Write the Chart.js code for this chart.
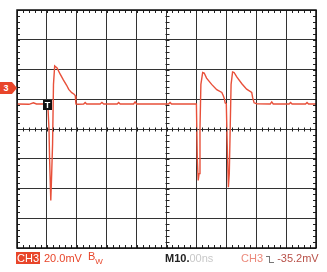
<!DOCTYPE html>
<html>
<head>
<meta charset="utf-8">
<script src="https://cdn.jsdelivr.net/npm/chart.js@4.4.1/dist/chart.umd.min.js"></script>
<style>
  html, body { margin: 0; padding: 0; background: #ffffff; }
  #wrap { position: relative; width: 327px; height: 272px; overflow: hidden; font-family: "Liberation Sans", Arial, sans-serif; }
  canvas { position: absolute; left: 0; top: 0; }
  .lbl { position: absolute; font-size: 11px; line-height: 12px; white-space: nowrap; }
  .edge { display: inline-block; vertical-align: -1px; height: 7px; box-sizing: border-box; }
</style>
</head>
<body>
<div id="wrap">
  <canvas id="c" width="327" height="272"></canvas>
  <div class="lbl" style="left:0px;top:82px;width:12px;height:12px;background:#e8452a;color:#fff;font-weight:bold;font-size:9px;text-align:center;">3</div>
  <div style="position:absolute;left:12px;top:82px;width:0;height:0;border-top:6px solid transparent;border-bottom:6px solid transparent;border-left:5px solid #e8452a;"></div>
  <div class="lbl" style="left:43px;top:100px;width:9px;height:10px;background:#111;color:#fff;font-weight:bold;font-size:9px;line-height:10px;text-align:center;">T</div>
  <div class="lbl" style="left:16px;top:252px;background:#e8452a;color:#fff;padding:0 1px;font-size:11px;">CH3</div>
  <div class="lbl" style="left:44px;top:252px;color:#e8452a;">20.0mV</div>
  <div class="lbl" style="left:88px;top:250px;color:#e8452a;">B<span style="font-size:8px;position:relative;top:4px;">W</span></div>
  <div class="lbl" style="left:165px;top:252px;color:#222;font-weight:bold;">M10.<span style="color:#c8c8c8;font-weight:normal;">00ns</span></div>
  <div class="lbl" style="left:241px;top:252px;color:#ec8a7c;">CH3 <span class="edge" style="width:4px;border-top:1px solid #777;border-right:1px solid #777;"></span><span class="edge" style="width:4px;border-bottom:1px solid #777;"></span> <span style="color:#b85048;">-35.2mV</span></div>
</div>
<script>
// time in ns (10 ns/div), voltage in mV (20 mV/div)
const timeNs = [0, 4, 5.5, 6.5, 9.5, 10.3, 10.7, 10.9, 11.0, 11.3, 11.6, 11.9, 12.2, 12.6, 13.4, 14.4, 15.5, 16.6, 17.3, 18.3, 19.1, 19.5, 19.7, 20.3, 22.3, 22.8, 23.3, 27.8, 28.4, 29.0, 33.5, 34.0, 34.5, 39.0, 39.5, 40.0, 50.7, 51.2, 51.7, 60.0, 60.3, 60.6, 60.9, 61.2, 61.5, 62.1, 62.6, 63.4, 65.1, 66.8, 68.5, 69.0, 69.4, 69.6, 70.0, 70.3, 70.7, 71.0, 71.3, 71.6, 72.1, 72.6, 73.5, 75.2, 76.8, 78.5, 78.8, 79.3, 80.2, 84.7, 85.2, 85.7, 91.0, 91.5, 92.0, 96.5, 97.0, 97.5, 100];
const voltMv = [16.8, 16.6, 17.6, 16.8, 16.8, 16.8, 0, -20, -20, -48, -30, -10, 30, 42.4, 41.0, 37.0, 33.0, 29.4, 26.6, 24.4, 23.4, 22.4, 16.8, 16.6, 16.8, 17.8, 16.8, 16.8, 17.8, 16.8, 16.8, 17.8, 16.8, 16.8, 18.2, 16.8, 16.8, 17.8, 16.8, 16.8, -20, -34.6, -30, 0, 30, 38.0, 37.6, 34.2, 30.0, 26.4, 24.6, 22.4, 20.0, 17.6, 17.0, -10, -39.2, -30, 0, 30, 38.4, 38.0, 35.0, 30.4, 26.8, 24.6, 21.2, 17.6, 17.0, 16.8, 18.2, 16.8, 16.8, 17.8, 16.8, 16.8, 17.8, 16.8, 16.8];
const xMin = 0, xMax = 100, xDiv = 10;
const yMin = -80, yMax = 80, yDiv = 20;

const points = timeNs.map((t, i) => ({ x: t, y: voltMv[i] }));

const scopeGrid = {
  id: 'scopeGrid',
  afterDraw(chart) {
    const ctx = chart.ctx;
    const a = chart.chartArea;
    const xs = chart.scales.x, ys = chart.scales.y;
    ctx.save();
    ctx.strokeStyle = '#222';
    ctx.lineWidth = 1;
    ctx.beginPath();
    const cx = Math.round(xs.getPixelForValue((xMin + xMax) / 2)) + 0.5;
    const cy = Math.round(ys.getPixelForValue((yMin + yMax) / 2)) + 0.5;
    for (let v = xMin; v <= xMax + 1e-9; v += xDiv / 5) {
      const px = Math.round(xs.getPixelForValue(v)) + 0.5;
      ctx.moveTo(px, a.top); ctx.lineTo(px, a.top + 3);
      ctx.moveTo(px, a.bottom); ctx.lineTo(px, a.bottom - 3);
      ctx.moveTo(px, cy - 2); ctx.lineTo(px, cy + 2);
    }
    for (let v = yMin; v <= yMax + 1e-9; v += yDiv / 5) {
      const py = Math.round(ys.getPixelForValue(v)) + 0.5;
      ctx.moveTo(a.left, py); ctx.lineTo(a.left + 3, py);
      ctx.moveTo(a.right, py); ctx.lineTo(a.right - 3, py);
      ctx.moveTo(cx - 2, py); ctx.lineTo(cx + 2, py);
    }
    ctx.stroke();
    ctx.lineWidth = 1.5;
    ctx.strokeStyle = '#111';
    ctx.strokeRect(a.left, a.top, a.right - a.left, a.bottom - a.top);
    ctx.restore();
  }
};

new Chart(document.getElementById('c'), {
  type: 'line',
  data: {
    datasets: [{
      data: points,
      borderColor: '#e8503a',
      borderWidth: 1.4,
      pointRadius: 0,
      tension: 0,
      fill: false
    }]
  },
  options: {
    responsive: false,
    animation: false,
    devicePixelRatio: 1,
    layout: { padding: { left: 17, top: 10, right: 11, bottom: 24 } },
    plugins: { legend: { display: false }, tooltip: { enabled: false } },
    scales: {
      x: {
        type: 'linear', min: xMin, max: xMax,
        ticks: { display: false, stepSize: xDiv },
        grid: { color: '#333', lineWidth: 1, drawTicks: false },
        border: { display: false }
      },
      y: {
        type: 'linear', min: yMin, max: yMax,
        ticks: { display: false, stepSize: yDiv },
        grid: { color: '#333', lineWidth: 1, drawTicks: false },
        border: { display: false }
      }
    }
  },
  plugins: [scopeGrid]
});
</script>
</body>
</html>
